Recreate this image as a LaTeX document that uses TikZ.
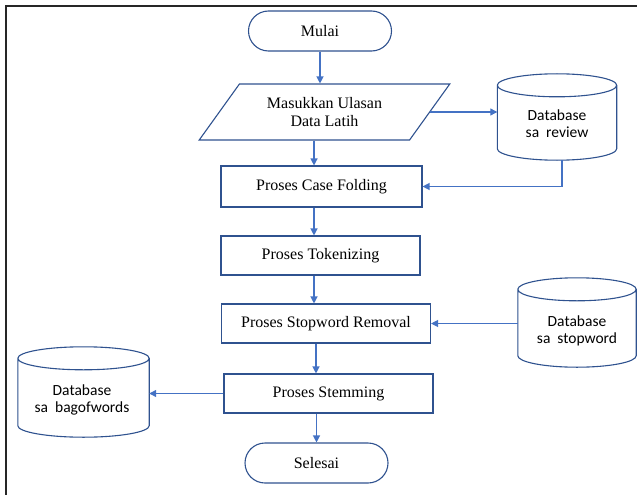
\documentclass[tikz,border=0pt]{standalone}
\usepackage{fontspec}
\setmainfont{Liberation Serif}
\newfontfamily\dbfont{Carlito}
\usetikzlibrary{arrows.meta,shapes.geometric,calc}
\definecolor{outl}{HTML}{2F528F}
\definecolor{arr}{HTML}{4472C4}
\newcommand\dbcyl[1]{%
  \path let \p1=(#1.west), \p2=(#1.east), \n1={(\x2-\x1)/2} in
   [draw=outl, line width=1.1pt, fill=white]
   ([yshift=-11.5pt]#1.north west) -- ([yshift=11.5pt]#1.south west)
     arc[start angle=180,end angle=360,x radius=\n1,y radius=11.5pt]
     -- ([yshift=-11.5pt]#1.north east)
     arc[start angle=0,end angle=180,x radius=\n1,y radius=11.5pt]
   ([yshift=-11.5pt]#1.north west)
     arc[start angle=180,end angle=360,x radius=\n1,y radius=11.5pt];}
\begin{document}
\begin{tikzpicture}[x=1pt,y=-1pt,
  serif/.style={font=\fontsize{16}{18}\selectfont},
  proc/.style={draw=outl, line width=1.1pt, minimum width=#1, minimum height=40pt, inner sep=0pt, serif},
  proc/.default=200pt,
  term/.style={draw=outl, line width=1.1pt, rounded corners=20pt, minimum width=#1, minimum height=40pt, inner sep=0pt, serif},
  term/.default=143pt,
  dbbox/.style={minimum width=#1, minimum height=89pt, inner sep=0pt},
  dbtext/.style={align=center, font=\dbfont\fontsize{15.5}{17}\selectfont, inner sep=0pt},
  arrow/.style={draw=arr, line width=1.2pt, -{Triangle[length=7pt,width=7pt]}},
  frameline/.style={draw=black!85, line width=2pt}
]
\useasboundingbox (0,0) rectangle (637,495);
% frame
\coordinate (f1) at (5.5,495);
\coordinate (f2) at (5.5,6);
\coordinate (f3) at (637,6);
\draw[frameline] (f1) -- (f2) -- (f3);

% main flow
\node[term=143pt] (mulai) at (320,31) {Mulai};
\node[draw=outl, line width=1.1pt, trapezium, trapezium left angle=46.6, trapezium right angle=133.4,
      trapezium stretches=true, minimum width=251pt, minimum height=56pt, inner sep=0pt,
      align=center, font=\fontsize{16}{17.5}\selectfont] (inp) at (324.5,112) {Masukkan Ulasan\\Data Latih};
\node[proc=201pt, minimum height=41pt] (cf) at (321.5,186.5) {Proses Case Folding};
\node[proc=199pt, minimum height=39pt] (tok) at (320.5,255.5) {Proses Tokenizing};
\node[proc=209pt, minimum height=39pt] (sw) at (326,323.5) {Proses Stopword Removal};
\node[proc=209pt, minimum height=39pt] (st) at (328.5,393.5) {Proses Stemming};
\node[term=143pt] (sel) at (316.5,463) {Selesai};

% databases
\node[dbbox=119pt, minimum height=86pt] (dbr) at (557,117) {};
\node[dbbox=118pt] (dbs) at (577,322.5) {};
\node[dbbox=131pt, minimum height=90pt] (dbb) at (83.5,392) {};
\dbcyl{dbr}
\dbcyl{dbs}
\dbcyl{dbb}
\node[dbtext] (dbrt) at (557,124) {Database\\sa\ \ review};
\node[dbtext] (dbst) at (577,331) {Database\\sa\ \ stopword};
\node[dbtext] (dbbt) at (82,400) {Database\\sa\ \ bagofwords};

% connectors
\draw[arrow] (mulai.south) -- (mulai.south |- inp.north);
\draw[arrow] ([xshift=-10.5pt]inp.south) -- ([xshift=-10.5pt]inp.south |- cf.north);
\draw[arrow] (inp.east) -- (inp.east -| dbr.west);
\draw[arrow] ([xshift=5pt]dbr.south) |- (cf.east);
\draw[arrow] ([xshift=-7.5pt]cf.south) -- ([xshift=-7.5pt]cf.south |- tok.north);
\draw[arrow] ([xshift=-6.5pt]tok.south) -- ([xshift=-6.5pt]tok.south |- sw.north);
\draw[arrow] ([xshift=-10pt]sw.south) -- ([xshift=-10pt]sw.south |- st.north);
\draw[arrow] (dbs.west |- sw.east) -- (sw.east);
\draw[arrow] (st.west) -- (st.west -| dbb.east);
\draw[arrow] ([xshift=-12pt]st.south) -- ([xshift=-12pt]st.south |- sel.north);
\end{tikzpicture}
\end{document}
